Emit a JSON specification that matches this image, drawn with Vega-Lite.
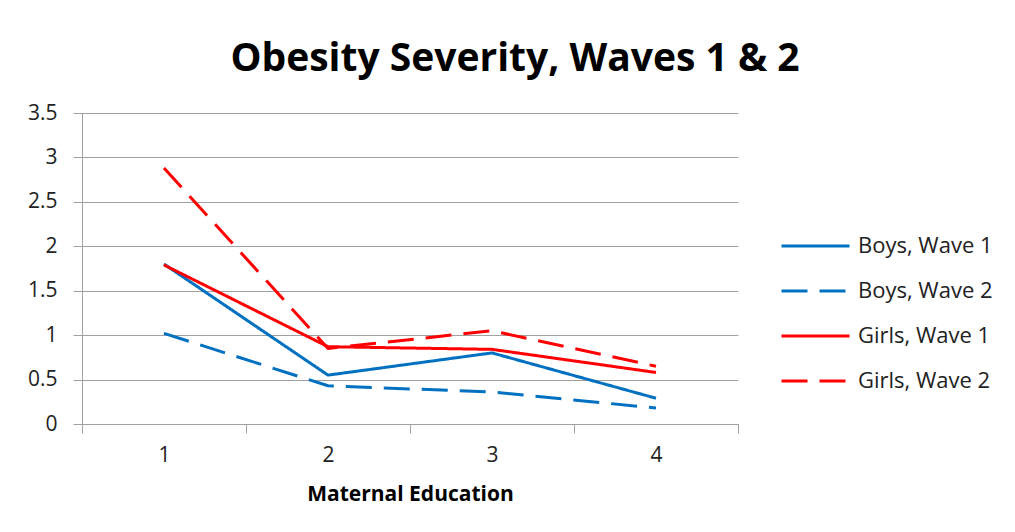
{
  "$schema": "https://vega.github.io/schema/vega-lite/v6.json",
  "width": 656,
  "height": 311,
  "autosize": {"type": "none"},
  "padding": {"left": 82, "top": 113, "right": 277, "bottom": 108},
  "background": "white",
  "title": {
    "text": "Obesity Severity, Waves 1 & 2",
    "font": "Open Sans",
    "fontSize": 39,
    "fontWeight": "bold",
    "color": "#000000",
    "anchor": "middle",
    "dx": 105,
    "offset": 23
  },
  "config": {"view": {"stroke": null}},
  "data": {
    "values": [
      {"edu": "1", "series": "Boys, Wave 1", "value": 1.80},
      {"edu": "2", "series": "Boys, Wave 1", "value": 0.55},
      {"edu": "3", "series": "Boys, Wave 1", "value": 0.80},
      {"edu": "4", "series": "Boys, Wave 1", "value": 0.29},
      {"edu": "1", "series": "Boys, Wave 2", "value": 1.02},
      {"edu": "2", "series": "Boys, Wave 2", "value": 0.43},
      {"edu": "3", "series": "Boys, Wave 2", "value": 0.36},
      {"edu": "4", "series": "Boys, Wave 2", "value": 0.18},
      {"edu": "1", "series": "Girls, Wave 1", "value": 1.79},
      {"edu": "2", "series": "Girls, Wave 1", "value": 0.87},
      {"edu": "3", "series": "Girls, Wave 1", "value": 0.84},
      {"edu": "4", "series": "Girls, Wave 1", "value": 0.58},
      {"edu": "1", "series": "Girls, Wave 2", "value": 2.88},
      {"edu": "2", "series": "Girls, Wave 2", "value": 0.85},
      {"edu": "3", "series": "Girls, Wave 2", "value": 1.05},
      {"edu": "4", "series": "Girls, Wave 2", "value": 0.65}
    ]
  },
  "mark": {"type": "line", "strokeWidth": 3, "strokeJoin": "round", "strokeCap": "butt"},
  "encoding": {
    "x": {
      "field": "edu",
      "type": "ordinal",
      "bandPosition": 0.5,
      "scale": {"type": "band", "paddingInner": 0, "paddingOuter": 0},
      "axis": {
        "title": "Maternal Education",
        "titleFont": "Open Sans",
        "titleFontSize": 21,
        "titleFontWeight": "bold",
        "titleColor": "#000000",
        "titlePadding": 18,
        "labelAngle": 0,
        "labelFont": "Open Sans",
        "labelFontSize": 21,
        "labelColor": "#222222",
        "labelPadding": 11,
        "tickBand": "extent",
        "tickSize": 9,
        "tickColor": "#A0A0A0",
        "domainColor": "#A0A0A0",
        "grid": false
      }
    },
    "y": {
      "field": "value",
      "type": "quantitative",
      "scale": {"domain": [0, 3.5], "nice": false, "zero": true},
      "axis": {
        "title": null,
        "values": [0, 0.5, 1, 1.5, 2, 2.5, 3, 3.5],
        "labelExpr": "datum.value + ''",
        "labelFont": "Open Sans",
        "labelFontSize": 21,
        "labelColor": "#222222",
        "labelPadding": 16,
        "tickSize": 9,
        "tickColor": "#A0A0A0",
        "domainColor": "#A0A0A0",
        "grid": true,
        "gridColor": "#A0A0A0"
      }
    },
    "color": {
      "field": "series",
      "type": "nominal",
      "scale": {
        "domain": ["Boys, Wave 1", "Boys, Wave 2", "Girls, Wave 1", "Girls, Wave 2"],
        "range": ["#0070C0", "#0070C0", "#FF0000", "#FF0000"]
      },
      "legend": {
        "title": null,
        "orient": "none",
        "legendX": 698,
        "legendY": 122,
        "symbolType": "stroke",
        "symbolSize": 4624,
        "symbolStrokeWidth": 3,
        "clipHeight": 22,
        "rowPadding": 23,
        "labelFont": "Open Sans",
        "labelFontSize": 22,
        "labelColor": "#222222",
        "labelOffset": 7,
        "padding": 0
      }
    },
    "strokeDash": {
      "field": "series",
      "type": "nominal",
      "scale": {
        "domain": ["Boys, Wave 1", "Boys, Wave 2", "Girls, Wave 1", "Girls, Wave 2"],
        "range": [[1, 0], [26, 12], [1, 0], [26, 12]]
      }
    }
  }
}
